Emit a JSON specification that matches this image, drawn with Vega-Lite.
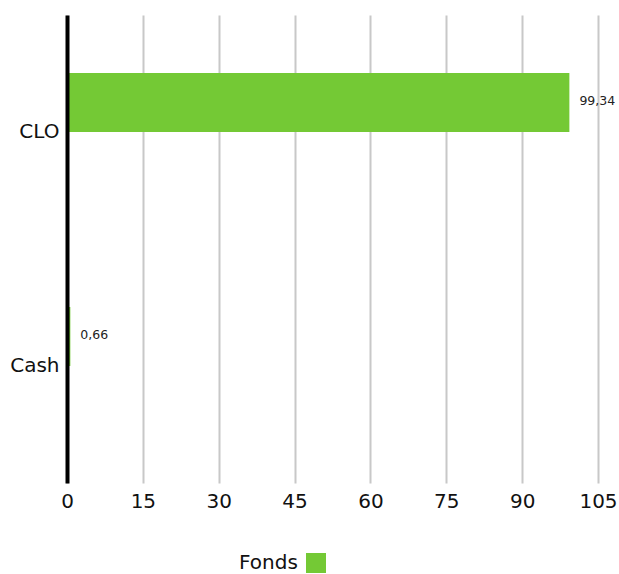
{
  "$schema": "https://vega.github.io/schema/vega-lite/v6.json",
  "autosize": {"type": "none"},
  "width": 531,
  "height": 468,
  "padding": {"left": 67, "top": 15, "right": 21, "bottom": 91},
  "background": "white",
  "config": {
    "view": {"stroke": null},
    "font": "DejaVu Sans",
    "locale": {"number": {"decimal": ",", "thousands": ".", "grouping": [3], "currency": ["", " €"]}}
  },
  "data": {
    "values": [
      {"category": "CLO", "value": 99.34, "series": "Fonds"},
      {"category": "Cash", "value": 0.66, "series": "Fonds"}
    ]
  },
  "encoding": {
    "y": {
      "field": "category",
      "type": "nominal",
      "sort": ["CLO", "Cash"],
      "scale": {"paddingInner": 0, "paddingOuter": 0},
      "axis": {
        "title": null,
        "ticks": false,
        "domainColor": "#000000",
        "domainWidth": 4,
        "labelFontSize": 20,
        "labelColor": "#111111",
        "labelPadding": 8,
        "labelFont": "DejaVu Sans",
        "zindex": 2
      }
    }
  },
  "layer": [
    {
      "mark": {"type": "bar", "height": 59, "yOffset": -29.5},
      "encoding": {
        "x": {
          "field": "value",
          "type": "quantitative",
          "scale": {"domain": [0, 105], "nice": false},
          "axis": {
            "title": null,
            "values": [0, 15, 30, 45, 60, 75, 90, 105],
            "domain": false,
            "ticks": false,
            "grid": true,
            "gridColor": "#c8c8c8",
            "gridWidth": 2,
            "labelFontSize": 20,
            "labelColor": "#111111",
            "labelPadding": 8,
            "labelFlush": false,
            "labelFont": "DejaVu Sans",
            "zindex": 0
          }
        },
        "color": {
          "field": "series",
          "type": "nominal",
          "scale": {"range": ["#74c935"]},
          "legend": {
            "orient": "none",
            "legendX": 172,
            "legendY": 538,
            "title": "Fonds",
            "titleOrient": "left",
            "titleFontSize": 20,
            "titleFontWeight": "normal",
            "titleColor": "#111111",
            "titleFont": "DejaVu Sans",
            "titleBaseline": "middle",
            "titlePadding": 8,
            "labelExpr": "''",
            "symbolType": "square",
            "symbolSize": 400,
            "symbolStrokeWidth": 0,
            "symbolOpacity": 1
          }
        }
      }
    },
    {
      "mark": {"type": "text", "align": "left", "baseline": "middle", "dx": 10, "yOffset": -31, "fontSize": 12.5, "color": "#222222", "font": "DejaVu Sans"},
      "encoding": {
        "x": {"field": "value", "type": "quantitative"},
        "text": {"field": "value", "type": "quantitative", "format": ".2f"}
      }
    }
  ]
}
